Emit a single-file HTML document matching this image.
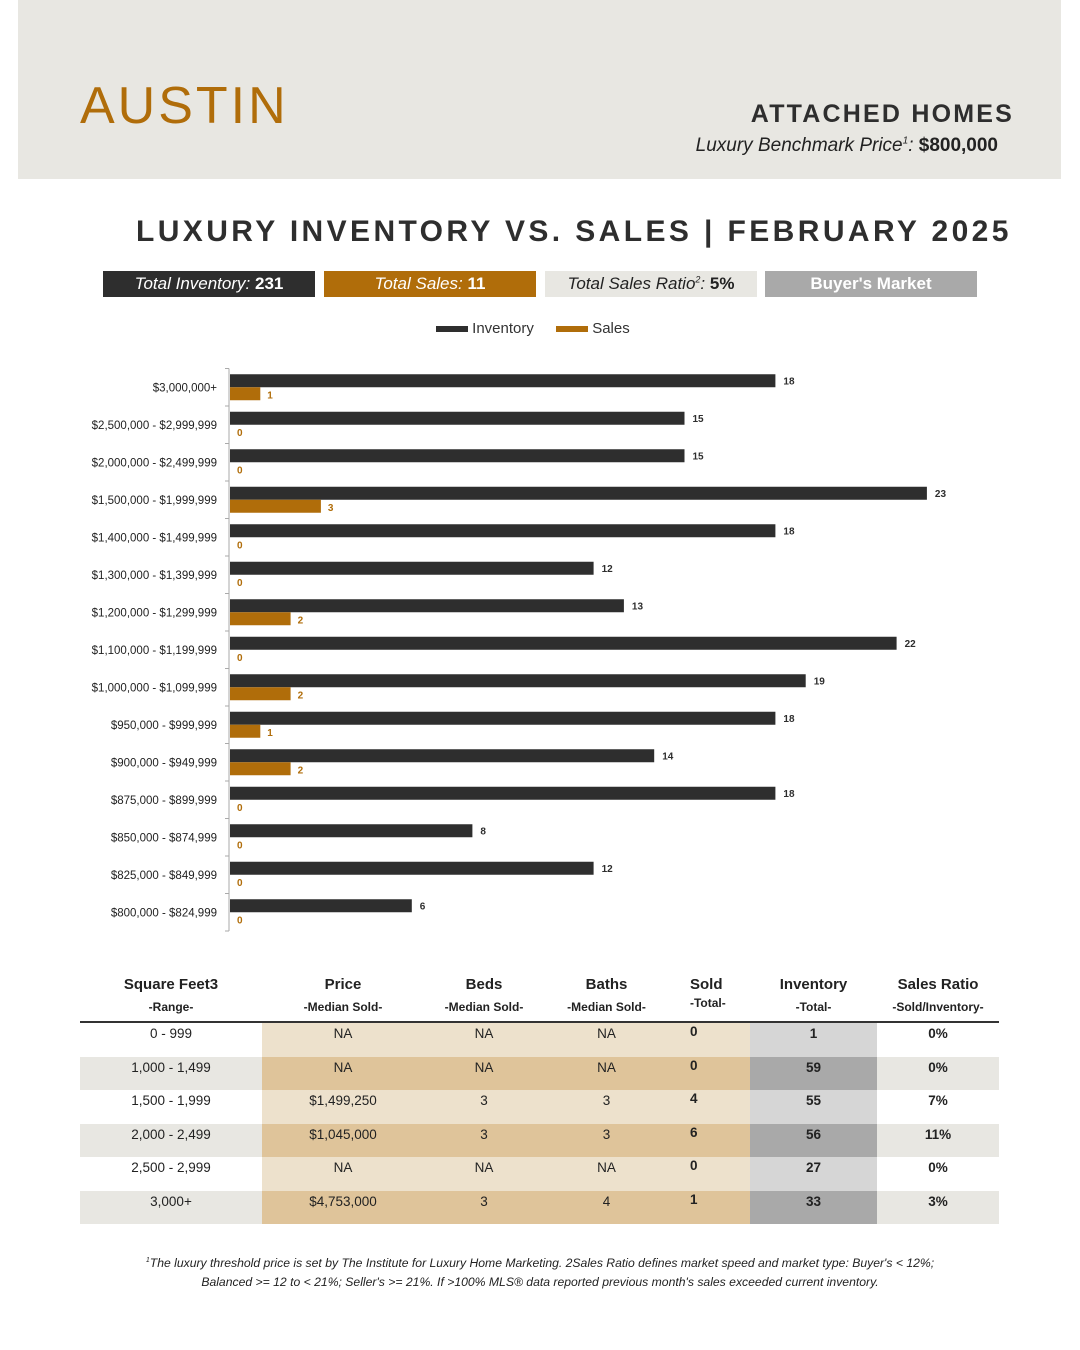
<!DOCTYPE html>
<html><head><meta charset="utf-8"><style>
body{margin:0;width:1080px;height:1350px;background:#fff;font-family:"Liberation Sans",sans-serif;position:relative;overflow:hidden}
.a{position:absolute}
.box{position:absolute;top:271px;height:26px;width:212px;text-align:center;font-size:17px;line-height:26px}
table{border-collapse:collapse}
</style></head><body>
<div class="a" style="left:18px;top:0;width:1043px;height:179px;background:#e8e7e2"></div>
<div class="a" style="left:80px;top:76px;font-size:52px;letter-spacing:3px;color:#b06d0a">AUSTIN</div>
<div class="a" style="right:66px;top:100px;font-size:25px;font-weight:bold;letter-spacing:2.2px;color:#2e2e2e;white-space:nowrap">ATTACHED HOMES</div>
<div class="a" style="right:82px;top:135px;font-size:19px;color:#222;white-space:nowrap"><i>Luxury Benchmark Price<sup style="font-size:10px">1</sup>:</i> <b>$800,000</b></div>
<div class="a" style="left:136px;top:215px;font-size:30px;font-weight:bold;letter-spacing:3.4px;color:#2e2e2e;white-space:nowrap">LUXURY INVENTORY VS. SALES | FEBRUARY 2025</div>
<div class="box" style="left:103px;background:#2e2e2e;color:#fff"><i>Total Inventory:</i> <b>231</b></div>
<div class="box" style="left:324px;background:#b06d0a;color:#fff"><i>Total Sales:</i> <b>11</b></div>
<div class="box" style="left:545px;background:#e8e7e2;color:#222"><i>Total Sales Ratio<sup style="font-size:9px;line-height:0">2</sup>:</i> <b>5%</b></div>
<div class="box" style="left:765px;background:#a9a9a9;color:#fff;font-weight:bold">Buyer's Market</div>
<div class="a" style="left:436px;top:320px;font-size:15px;color:#333">
<span><span style="display:inline-block;width:32px;height:6px;background:#2e2e2e;vertical-align:middle"></span> Inventory</span>
<span style="margin-left:18px"><span style="display:inline-block;width:32px;height:6px;background:#b06d0a;vertical-align:middle"></span> Sales</span></div>
<svg class="a" style="left:0;top:0" width="1080" height="950" id="chart"></svg>
<script>
const categories=["$3,000,000+","$2,500,000 - $2,999,999","$2,000,000 - $2,499,999","$1,500,000 - $1,999,999","$1,400,000 - $1,499,999","$1,300,000 - $1,399,999","$1,200,000 - $1,299,999","$1,100,000 - $1,199,999","$1,000,000 - $1,099,999","$950,000 - $999,999","$900,000 - $949,999","$875,000 - $899,999","$850,000 - $874,999","$825,000 - $849,999","$800,000 - $824,999"];
const inventory=[18,15,15,23,18,12,13,22,19,18,14,18,8,12,6];
const sales=[1,0,0,3,0,0,2,0,2,1,2,0,0,0,0];
const svg=document.getElementById('chart');const NS='http://www.w3.org/2000/svg';
const x0=230,unit=30.3,top0=368.5,step=37.5;
const xs=v=>x0+v*unit;
function mk(t,a){const e=document.createElementNS(NS,t);for(const k in a)e.setAttribute(k,a[k]);svg.appendChild(e);return e;}
let ax=mk('line',{x1:x0-1,x2:x0-1,y1:top0,y2:top0+step*categories.length,stroke:'#aaa'});


for(let i=0;i<=categories.length;i++){mk('line',{x1:x0-5,x2:x0-1,y1:top0+i*step,y2:top0+i*step,stroke:'#aaa'});}
categories.forEach((c,i)=>{
 const yc=top0+i*step+step/2;
 const t=mk('text',{x:217,y:yc+4,'text-anchor':'end','font-size':11.5,fill:'#222','font-family':'Liberation Sans'});t.textContent=c;
 
 
 const b=mk('rect',{x:x0,y:yc-13,width:xs(inventory[i])-x0,height:13,fill:'#2e2e2e'});
 
 
 const s=mk('rect',{x:x0,y:yc,width:xs(sales[i])-x0,height:13,fill:'#b06d0a'});
 
 
 const l1=mk('text',{x:xs(inventory[i])+8,y:yc-3,'font-size':10,'font-weight':'bold',fill:'#2e2e2e'});l1.textContent=inventory[i];
 
 
 const l2=mk('text',{x:xs(sales[i])+7,y:yc+11,'font-size':10,'font-weight':'bold',fill:'#b06d0a'});l2.textContent=sales[i];
 
 
});
</script>
<div class="a" style="left:80px;top:972px;width:919px">
<table style="width:919px;font-size:14px;color:#222;text-align:center">
<tr style="height:48px;font-weight:bold;font-size:15px;vertical-align:top">
<td style="width:182px;padding:4px 0 0">Square Feet3<br><span style="font-size:12px;line-height:28px">-Range-</span></td>
<td style="width:162px;padding:4px 0 0">Price<br><span style="font-size:12px;line-height:28px">-Median Sold-</span></td>
<td style="width:120px;padding:4px 0 0">Beds<br><span style="font-size:12px;line-height:28px">-Median Sold-</span></td>
<td style="width:125px;padding:4px 0 0">Baths<br><span style="font-size:12px;line-height:28px">-Median Sold-</span></td>
<td style="width:81px;padding:4px 0 0 21px;text-align:left;box-sizing:border-box">Sold<br><span style="font-size:12px;line-height:20px">-Total-</span></td>
<td style="width:127px;padding:4px 0 0">Inventory<br><span style="font-size:12px;line-height:28px">-Total-</span></td>
<td style="padding:4px 0 0">Sales Ratio<br><span style="font-size:12px;line-height:28px">-Sold/Inventory-</span></td></tr>
<tr><td colspan="7" style="height:0;border-top:2px solid #333;padding:0"></td></tr>
</table>
<div id="rows"></div>
</div>
<script>
const rowsData=[["0 - 999","NA","NA","NA","0","1","0%"],["1,000 - 1,499","NA","NA","NA","0","59","0%"],["1,500 - 1,999","$1,499,250","3","3","4","55","7%"],["2,000 - 2,499","$1,045,000","3","3","6","56","11%"],["2,500 - 2,999","NA","NA","NA","0","27","0%"],["3,000+","$4,753,000","3","4","1","33","3%"]];
const widths=[182,162,120,125,81,127,122];
const R=document.getElementById('rows');
rowsData.forEach((r,i)=>{
 const odd=i%2==1;
 const bg=odd?['#e8e7e2','#dfc49a','#dfc49a','#dfc49a','#dfc49a','#a9a9a9','#e8e7e2']:['#fff','#ede1cc','#ede1cc','#ede1cc','#ede1cc','#d6d6d6','#fff'];
 const row=document.createElement('div');row.style.cssText='display:flex;height:33.5px';
 
 
 r.forEach((v,j)=>{const c=document.createElement('div');
  c.style.cssText='width:'+widths[j]+'px;background:'+bg[j]+';font-size:13.5px;padding-top:'+(j==4?1:3)+'px;'+(j==4?'padding-left:21px;':'')+'box-sizing:border-box;text-align:'+(j==4?'left':'center')+';'+(j>=4?'font-weight:bold;':'')+'color:#222';
  c.textContent=v;row.appendChild(c);});
 R.appendChild(row);
});
</script>
<div class="a" style="left:80px;top:1251px;width:920px;text-align:center;font-size:12.2px;font-style:italic;color:#222;line-height:19px"><sup style="font-size:7px">1</sup>The luxury threshold price is set by The Institute for Luxury Home Marketing. 2Sales Ratio defines market speed and market type: Buyer's &lt; 12%;<br>Balanced &gt;= 12 to &lt; 21%; Seller's &gt;= 21%. If &gt;100% MLS® data reported previous month's sales exceeded current inventory.</div>
</body></html>
